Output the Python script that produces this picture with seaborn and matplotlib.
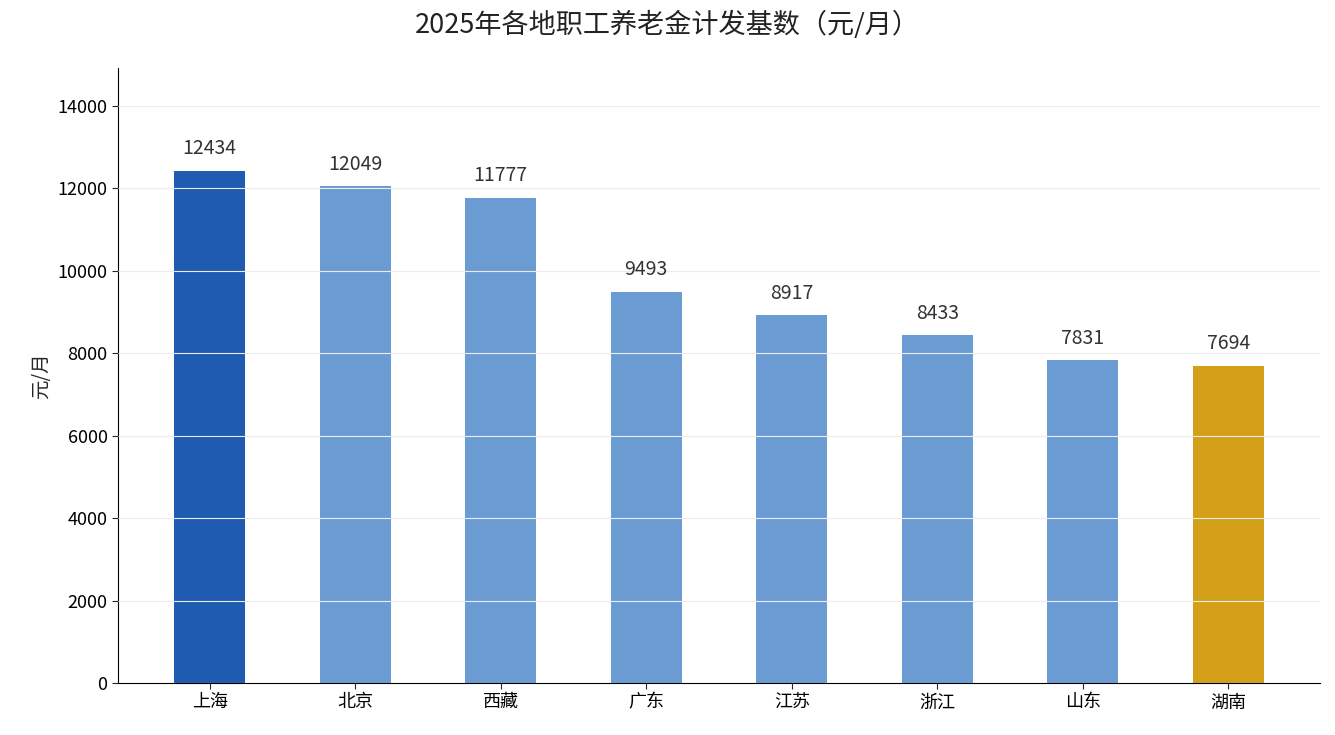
import matplotlib
matplotlib.use("Agg")
import matplotlib.pyplot as plt
import seaborn as sns
import pandas as pd

regions = ["上海", "北京", "西藏", "广东", "江苏", "浙江", "山东", "湖南"]
values = [12434, 12049, 11777, 9493, 8917, 8433, 7831, 7694]
colors = ["#1f5bb0"] + ["#6b9bd3"] * 6 + ["#d4a01a"]

sns.set_style("white")
plt.rcParams['font.family'] = ['Noto Sans CJK SC', 'DejaVu Sans']

fig = plt.figure(figsize=(13.35, 7.35), dpi=100)
ax = fig.add_axes([118/1335, 1-683/735, (1320-118)/1335, (683-68)/735])
df = pd.DataFrame({"r": regions, "v": values})
sns.barplot(data=df, x="r", y="v", hue="r", palette=colors, legend=False, width=0.49,
            ax=ax, saturation=1, linewidth=0)
ax.set_xlim(-0.63, len(values) - 1 + 0.63)
ax.set_ylim(0, max(values) * 1.2)
ax.set_yticks(range(0, 14001, 2000))
ax.yaxis.grid(True, color="#ececec", linewidth=0.8)
ax.set_axisbelow(False)
for i, v in enumerate(values):
    ax.text(i, v + 280, str(v), ha="center", va="bottom", fontsize=14, color="#333333")
ax.set_xlabel("")
ax.set_ylabel("元/月", fontsize=14)
ax.tick_params(axis="both", labelsize=13, length=4, left=True, bottom=True, labelcolor="black")
for s in ["top", "right"]:
    ax.spines[s].set_visible(False)
for s in ["left", "bottom"]:
    ax.spines[s].set_color("black")
fig.suptitle("2025年各地职工养老金计发基数（元/月）", fontsize=19.5, y=0.985, color="#222222")
fig.savefig("out.png", dpi=100)
